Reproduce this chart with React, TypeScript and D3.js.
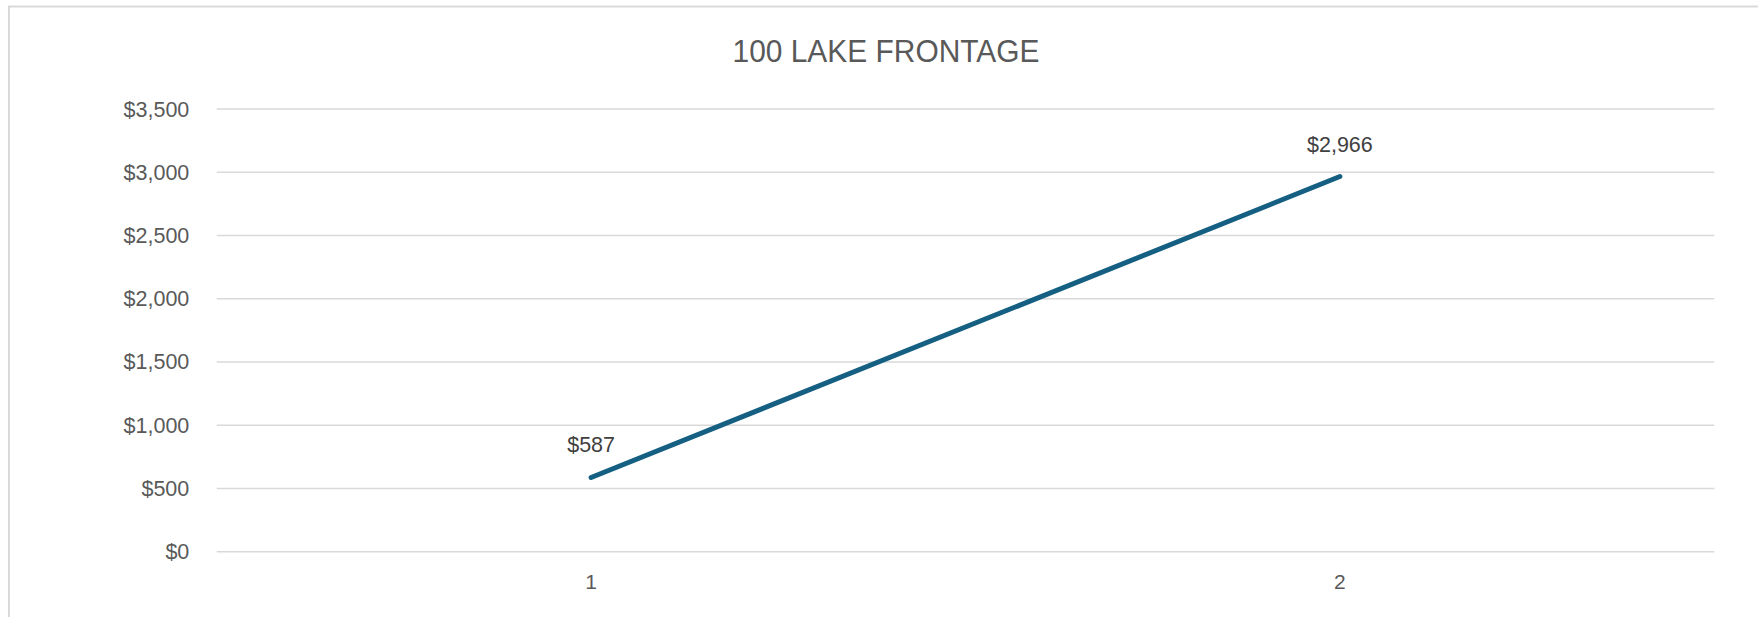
import React from "react";
import * as d3 from "d3";

const title = "100 LAKE FRONTAGE";
const categories = ["1", "2"];
const values = [587, 2966];
const yTicks = [0, 500, 1000, 1500, 2000, 2500, 3000, 3500];

const W = 1758;
const H = 617;
const margin = { left: 216.7, right: W - 1714.3, top: 109, bottom: H - 551.7 };
const FONT = "'Liberation Sans', Arial, sans-serif";

export default function App() {
  const x = d3
    .scaleBand<string>()
    .domain(categories)
    .range([margin.left, W - margin.right])
    .paddingInner(0)
    .paddingOuter(0);
  const y = d3.scaleLinear().domain([0, 3500]).range([H - margin.bottom, margin.top]);
  const fmt = (v: number) => "$" + d3.format(",")(v);
  const cx = (c: string) => (x(c) as number) + x.bandwidth() / 2;

  const line = d3
    .line<number>()
    .x((_, i) => cx(categories[i]))
    .y((d) => y(d));

  return (
    <svg
      width={W}
      height={H}
      style={{ position: "absolute", left: 0, top: 0, display: "block", background: "#fff" }}
    >
      <rect x={0} y={0} width={W} height={H} fill="#fff" />
      <path d={`M9,${H} V6.5 H${W}`} fill="none" stroke="#d9d9d9" strokeWidth={2} />
      <text
        x={886}
        y={61.7}
        textAnchor="middle"
        fontFamily={FONT}
        fontSize={32}
        fill="#595959"
        textLength={307}
        lengthAdjust="spacingAndGlyphs"
      >
        {title}
      </text>
      {yTicks.map((t) => (
        <g key={t}>
          <line
            x1={margin.left}
            x2={W - margin.right}
            y1={y(t)}
            y2={y(t)}
            stroke="#d9d9d9"
            strokeWidth={1.5}
          />
          <text
            x={189.3}
            y={y(t)}
            dy="0.35em"
            textAnchor="end"
            fontFamily={FONT}
            fontSize={21.5}
            fill="#595959"
          >
            {fmt(t)}
          </text>
        </g>
      ))}
      {categories.map((c) => (
        <text
          key={c}
          x={cx(c)}
          y={589.3}
          textAnchor="middle"
          fontFamily={FONT}
          fontSize={21}
          fill="#595959"
        >
          {c}
        </text>
      ))}
      <path
        d={line(values) || ""}
        fill="none"
        stroke="#156082"
        strokeWidth={5}
        strokeLinecap="round"
        strokeLinejoin="round"
      />
      {values.map((v, i) => (
        <text
          key={i}
          x={cx(categories[i])}
          y={y(v) - 25}
          textAnchor="middle"
          fontFamily={FONT}
          fontSize={21.5}
          fill="#404040"
        >
          {fmt(v)}
        </text>
      ))}
    </svg>
  );
}
